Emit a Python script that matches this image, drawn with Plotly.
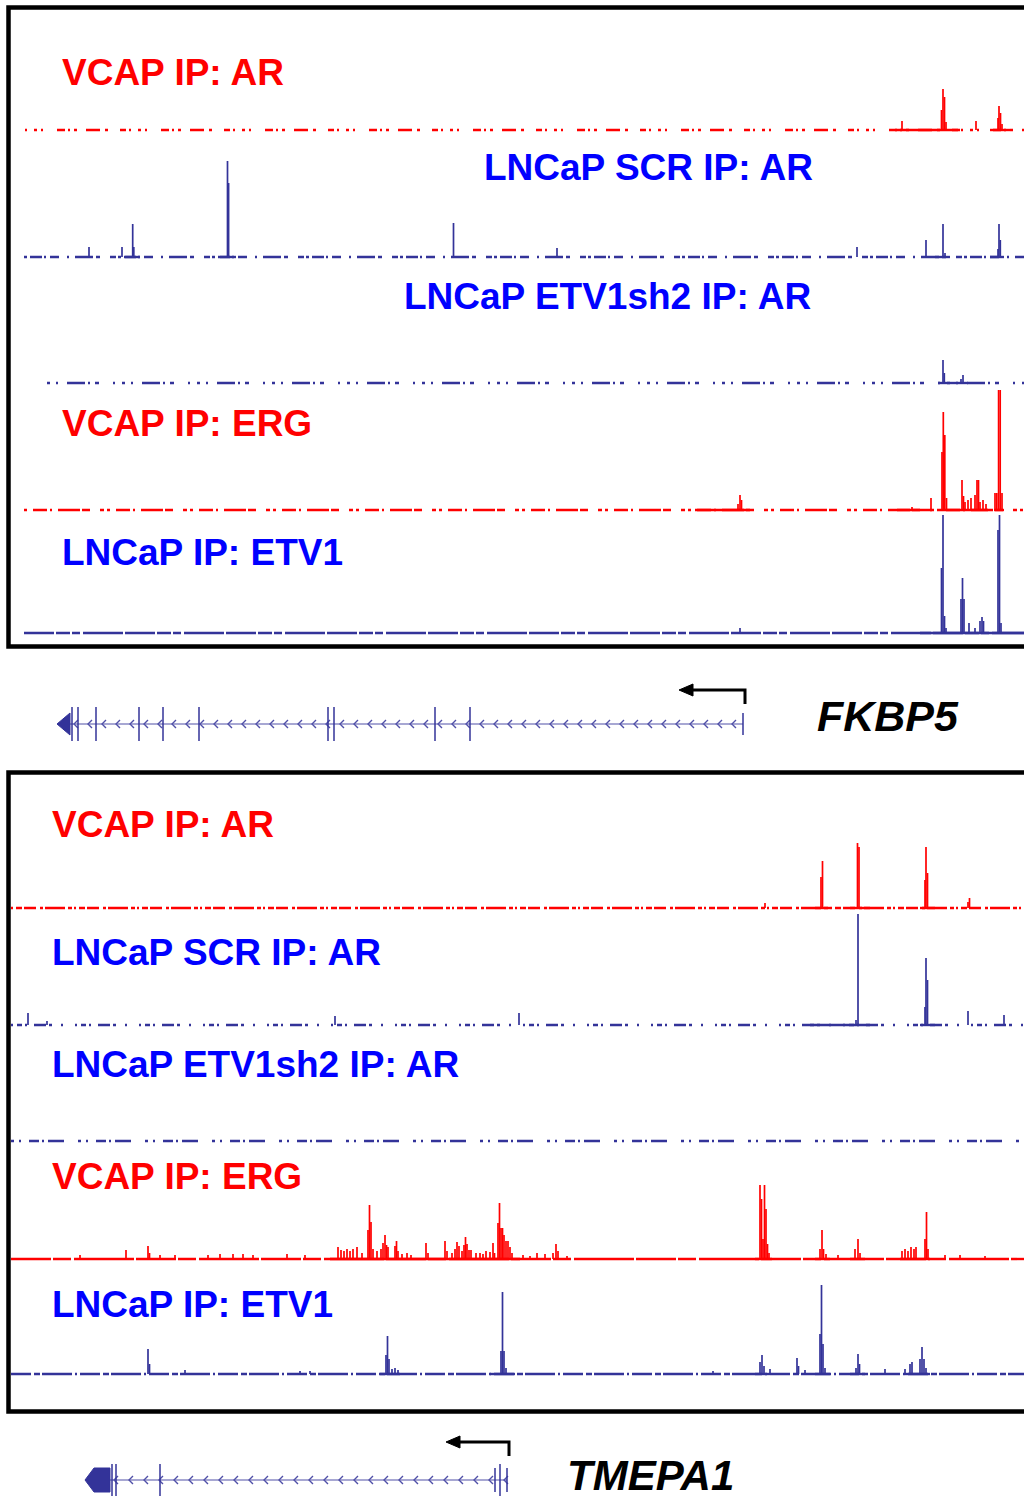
import numpy as np
import plotly.graph_objects as go

W, H = 1024, 1500

# ---------------- DATA (genomic position in window units, ChIP signal) ----------------
FKBP5_VCAP_AR = [(902, 9), (941.5, 20), (943, 41), (944.5, 33), (946, 8), (976, 9),
                 (998, 12), (999, 24), (1000.5, 17), (1002, 6)]
FKBP5_SCR_AR = [(89, 10), (122, 10), (132.7, 33), (133.8, 10), (227.5, 96), (228.6, 74),
                (453.5, 34), (557, 9), (857, 10), (926, 17), (943, 33), (945, 4),
                (998, 8), (999, 33), (1000.3, 17)]
FKBP5_SH2_AR = [(943, 23), (944.3, 10), (961, 4), (963, 8)]
FKBP5_VCAP_ERG = [(738, 6), (740, 15), (741.5, 10), (912, 3), (931, 12), (942, 58), (943.3, 98),
                  (944.8, 75), (946.5, 12), (962, 30), (963.5, 14), (965, 8), (968, 10), (971, 12),
                  (975, 15), (977, 30), (978.5, 30), (980, 8), (983, 10), (986, 6), (995, 17),
                  (996.8, 17), (998.6, 120), (1000.2, 120), (1002, 17)]
FKBP5_ETV1 = [(740, 5), (941.5, 65), (943, 118), (944.5, 17), (946, 5), (961, 34), (962.5, 55),
              (964, 34), (969, 10), (975, 5), (980, 12), (982, 16), (983.5, 12), (998, 103),
              (999.5, 118), (1001, 10)]

TMEPA1_VCAP_AR = [(765, 5), (821, 31), (822.5, 47), (857.5, 65), (859, 61), (925, 28),
                  (926, 61), (927.5, 35), (968, 6), (969.5, 10)]
TMEPA1_SCR_AR = [(28, 12), (47, 4), (335, 9), (519, 12), (856, 5), (858, 111), (925, 18),
                 (926, 67), (927.5, 45), (968, 14), (1004, 10)]
TMEPA1_SH2_AR = []
TMEPA1_VCAP_ERG = [(80, 4), (126, 9), (148, 13), (149.5, 6), (160, 4), (175, 4), (208, 4),
                   (220, 5), (233, 5), (243, 5), (253, 4), (287, 5), (305, 4), (338, 12),
                   (341, 9), (344, 8), (347, 10), (350, 8), (353, 10), (357, 12), (362, 6),
                   (368, 29), (369.5, 54), (371, 37), (373, 10), (377, 8), (381, 10), (383, 16),
                   (385, 24), (386.5, 14), (388, 12), (395, 13), (396.5, 18), (398, 8), (402, 5),
                   (407, 6), (411, 4), (426, 16), (428, 6), (445, 18), (447, 8), (452, 6),
                   (455, 10), (457, 17), (459, 13), (462, 8), (464, 14), (465.5, 22), (467, 15),
                   (469, 9), (471, 9), (476, 6), (480, 6), (483, 5), (486, 8), (490, 7), (493, 16),
                   (494.5, 6), (498, 36), (499.5, 56), (501, 31), (502.5, 31), (504, 24),
                   (506, 18), (508, 18), (510, 12), (512, 6), (523, 4), (530, 3), (537, 6),
                   (545, 5), (553, 6), (556, 15), (558, 8), (567, 3), (760, 74), (761.5, 60),
                   (763, 20), (764.5, 74), (766, 50), (767.5, 15), (769, 6), (820, 10), (822, 29),
                   (823.5, 10), (826, 5), (838, 4), (855, 10), (858, 20), (860, 6), (902, 8),
                   (905, 10), (908, 8), (911, 12), (914, 10), (916, 12), (925, 20), (926.5, 47),
                   (928, 10), (945, 4), (960, 4), (985, 3)]
TMEPA1_ETV1 = [(148, 25), (149.5, 10), (185, 4), (300, 3), (310, 3), (386, 19), (387.5, 38),
               (389, 15), (392, 5), (395, 6), (398, 4), (501, 23), (502.5, 82), (504, 23),
               (506, 6), (713, 3), (760, 12), (762, 19), (764, 8), (770, 5), (797, 16),
               (798.5, 8), (805, 4), (820, 40), (821.5, 89), (823, 30), (825, 6), (856, 6),
               (858, 20), (859.5, 10), (885, 5), (905, 5), (910, 10), (912, 12), (920, 15),
               (922, 27), (924, 15), (926, 6)]

# densely covered regions of each track (start, end)
FKBP5_COVER = [[(895, 960), (990, 1010)], [(125, 140), (220, 236), (935, 950), (990, 1004)],
               [(938, 968)], [(695, 750), (897, 932), (940, 988), (994, 1004)], [(920, 1024)]]
TMEPA1_COVER = [[(815, 830), (850, 870), (920, 935)], [(810, 870), (920, 935)], [],
                [(330, 520), (755, 772), (815, 830), (850, 865), (900, 930)],
                [(380, 400), (490, 515), (755, 770), (815, 830), (850, 865), (905, 930)]]

TRACK_LABELS = ["VCAP IP: AR", "LNCaP SCR IP: AR", "LNCaP ETV1sh2 IP: AR",
                "VCAP IP: ERG", "LNCaP IP: ETV1"]

# gene models
FKBP5_EXONS = [72, 78, 96, 139, 163, 199, 328, 334, 435, 470]
FKBP5_TSS = 743
FKBP5_END = 70
TMEPA1_EXONS = [112, 116, 160, 500]
TMEPA1_SMALL_EXONS = [495, 507]
TMEPA1_TSS = 507
TMEPA1_END = 110
GENE_NAMES = ["FKBP5", "TMEPA1"]

# ---------------- STYLE / LAYOUT ----------------
RED = "#FF0000"
NAVY = "#333399"
TEXT_BLUE = "#0000FF"
GENE_LINE = "#5050A8"

panels = [
    dict(tracks=[FKBP5_VCAP_AR, FKBP5_SCR_AR, FKBP5_SH2_AR, FKBP5_VCAP_ERG, FKBP5_ETV1],
         cover=FKBP5_COVER,
         baselines=[130, 257, 383, 510, 633],
         starts=[25, 24, 47, 24, 24],
         colors=[RED, NAVY, NAVY, RED, NAVY],
         dashes=["2px,7px,3px,4px,2px,14px,8px,3px,2px,4px,3px,9px,14px,5px,3px,12px,6px,3px",
                 "3px,3px,12px,2px,2px,4px,9px,8px,2px,6px,18px,3px,4px,10px,6px,2px",
                 "3px,6px,2px,9px,18px,3px,2px,5px,4px,14px,2px,7px",
                 "3px,6px,14px,3px,2px,6px,22px,2px,8px,10px,4px,3px",
                 "30px,2px,14px,2px,8px,3px,40px,2px"],
         label_x=[60, 482, 402, 60, 60],
         label_y=[72, 168, 296, 424, 552],
         label_colors=[RED, TEXT_BLUE, TEXT_BLUE, RED, TEXT_BLUE],
         box=(8.5, 7.5, 1100, 646.5)),
    dict(tracks=[TMEPA1_VCAP_AR, TMEPA1_SCR_AR, TMEPA1_SH2_AR, TMEPA1_VCAP_ERG, TMEPA1_ETV1],
         cover=TMEPA1_COVER,
         baselines=[908, 1025, 1141, 1259, 1374],
         starts=[11, 11, 11, 11, 11],
         colors=[RED, NAVY, NAVY, RED, NAVY],
         dashes=["2px,3px,6px,2px,12px,4px,3px,2px,20px,3px,4px,2px",
                 "2px,4px,5px,3px,2px,7px,12px,3px,3px,9px,2px,12px",
                 "3px,5px,2px,8px,10px,3px,2px,4px,16px,14px",
                 "40px,2px,18px,3px,60px,2px",
                 "20px,3px,6px,2px,30px,3px,2px,3px"],
         label_x=[50, 50, 50, 50, 50],
         label_y=[824, 952, 1064, 1176, 1304],
         label_colors=[RED, TEXT_BLUE, TEXT_BLUE, RED, TEXT_BLUE],
         box=(8.5, 772.5, 1100, 1411.5)),
]

LO, HI = -6, 124  # track axis range (signal units == px)


def py(p):
    return min(1.0, max(0.0, 1 - p / H))


def px(p):
    return p / W


fig = go.Figure()
layout_axes = {}
annotations = []
shapes = []
ax_i = 1

for panel in panels:
    for k, data in enumerate(panel["tracks"]):
        b = panel["baselines"][k]
        name = "y" if ax_i == 1 else f"y{ax_i}"
        key = "yaxis" if ax_i == 1 else f"yaxis{ax_i}"
        layout_axes[key] = dict(domain=[py(b - LO), py(b - HI)], range=[LO, HI], visible=False,
                                fixedrange=True, anchor="x")
        col = panel["colors"][k]
        fig.add_trace(go.Scatter(x=[panel["starts"][k], W], y=[0, 0], mode="lines",
                                 line=dict(color=col, width=2.4, dash=panel["dashes"][k]),
                                 xaxis="x", yaxis=name, hoverinfo="skip", showlegend=False))
        cx, cy = [], []
        for s, e in panel["cover"][k]:
            cx += [s, e, None]
            cy += [0, 0, None]
        if cx:
            fig.add_trace(go.Scatter(x=cx, y=cy, mode="lines", line=dict(color=col, width=2.4),
                                     xaxis="x", yaxis=name, hoverinfo="skip", showlegend=False))
        pxs, pys = [], []
        for pos, sig in data:
            pxs += [pos, pos, None]
            pys += [0, sig, None]
        if pxs:
            fig.add_trace(go.Scatter(x=pxs, y=pys, mode="lines", line=dict(color=col, width=1.7),
                                     xaxis="x", yaxis=name, hoverinfo="skip", showlegend=False))
        annotations.append(dict(text="<b>" + TRACK_LABELS[k] + "</b>", x=px(panel["label_x"][k]),
                                y=py(panel["label_y"][k]), xref="paper", yref="paper",
                                xanchor="left", yanchor="middle", showarrow=False,
                                font=dict(family="Liberation Sans, Arial", size=37,
                                          color=panel["label_colors"][k])))
        ax_i += 1
    x0, y0, x1, y1 = panel["box"]
    shapes.append(dict(type="rect", xref="paper", yref="paper", x0=px(x0), x1=px(x1),
                       y0=1 - y0 / H, y1=1 - y1 / H, line=dict(color="black", width=4.5)))

genes = [
    dict(center=724, exons=FKBP5_EXONS, small=[FKBP5_TSS], end=FKBP5_END, tss=FKBP5_TSS,
         tick=17, small_tick=11, arrow_y=34, arrow_drop=20, arrow_len=66, head="tri",
         name=GENE_NAMES[0], name_x=815, name_y=716, size=43, chev=14),
    dict(center=1480, exons=TMEPA1_EXONS, small=TMEPA1_SMALL_EXONS, end=TMEPA1_END, tss=TMEPA1_TSS,
         tick=16, small_tick=12, arrow_y=38, arrow_drop=24, arrow_len=63, head="pent",
         name=GENE_NAMES[1], name_x=565, name_y=1475, size=42, chev=15),
]
for g in genes:
    name = f"y{ax_i}"
    key = f"yaxis{ax_i}"
    c = g["center"]
    bot = min(c + 50, H)
    top = c - 50
    layout_axes[key] = dict(domain=[py(bot), py(top)], range=[-(bot - c), c - top], visible=False,
                            fixedrange=True, anchor="x")
    fig.add_trace(go.Scatter(x=[g["end"], g["tss"]], y=[0, 0], mode="lines",
                             line=dict(color=GENE_LINE, width=1.2), xaxis="x", yaxis=name,
                             hoverinfo="skip", showlegend=False))
    chx, chy = [], []
    for xc in np.arange(g["end"] + 4, g["tss"] - 2, g["chev"]):
        chx += [xc + 4, xc, xc + 4, None]
        chy += [4, 0, -4, None]
    fig.add_trace(go.Scatter(x=chx, y=chy, mode="lines", line=dict(color=GENE_LINE, width=1.4),
                             xaxis="x", yaxis=name, hoverinfo="skip", showlegend=False))
    ex, ey = [], []
    for e in g["exons"]:
        ex += [e, e, None]
        ey += [-g["tick"], g["tick"], None]
    for e in g["small"]:
        ex += [e, e, None]
        ey += [-g["small_tick"], g["small_tick"], None]
    fig.add_trace(go.Scatter(x=ex, y=ey, mode="lines", line=dict(color=NAVY, width=1.5),
                             xaxis="x", yaxis=name, hoverinfo="skip", showlegend=False))
    e = g["end"]
    if g["head"] == "tri":
        bx = [e, e, e - 13, e]
        by = [11, -11, 0, 11]
    else:
        bx = [e, e, e - 16, e - 25, e - 16, e]
        by = [12, -12, -12, 0, 12, 12]
    fig.add_trace(go.Scatter(x=bx, y=by, mode="lines", fill="toself", fillcolor=NAVY,
                             line=dict(color=NAVY, width=1), xaxis="x", yaxis=name,
                             hoverinfo="skip", showlegend=False))
    t = g["tss"] + 2
    ay = g["arrow_y"]
    tip = t - g["arrow_len"]
    fig.add_trace(go.Scatter(x=[t, t, tip + 12], y=[g["arrow_drop"], ay, ay], mode="lines",
                             line=dict(color="black", width=3), xaxis="x", yaxis=name,
                             hoverinfo="skip", showlegend=False))
    fig.add_trace(go.Scatter(x=[tip, tip + 14, tip + 14, tip], y=[ay, ay + 6, ay - 6, ay],
                             mode="lines", fill="toself", fillcolor="black",
                             line=dict(color="black", width=1), xaxis="x", yaxis=name,
                             hoverinfo="skip", showlegend=False))
    annotations.append(dict(text="<b><i>" + g["name"] + "</i></b>", x=px(g["name_x"]),
                            y=py(g["name_y"]), xref="paper", yref="paper", xanchor="left",
                            yanchor="middle", showarrow=False,
                            font=dict(family="Liberation Sans, Arial", size=g["size"],
                                      color="black")))
    ax_i += 1

fig.update_layout(
    width=W, height=H, autosize=False,
    margin=dict(l=0, r=0, t=0, b=0, pad=0),
    paper_bgcolor="white", plot_bgcolor="rgba(0,0,0,0)",
    xaxis=dict(range=[0, W], domain=[0, 1], visible=False, fixedrange=True),
    annotations=annotations, shapes=shapes, showlegend=False,
    **layout_axes,
)

fig.write_html("out.html", config={"displayModeBar": False},
               post_script="document.body.style.margin='0';document.body.style.overflow='hidden';")
